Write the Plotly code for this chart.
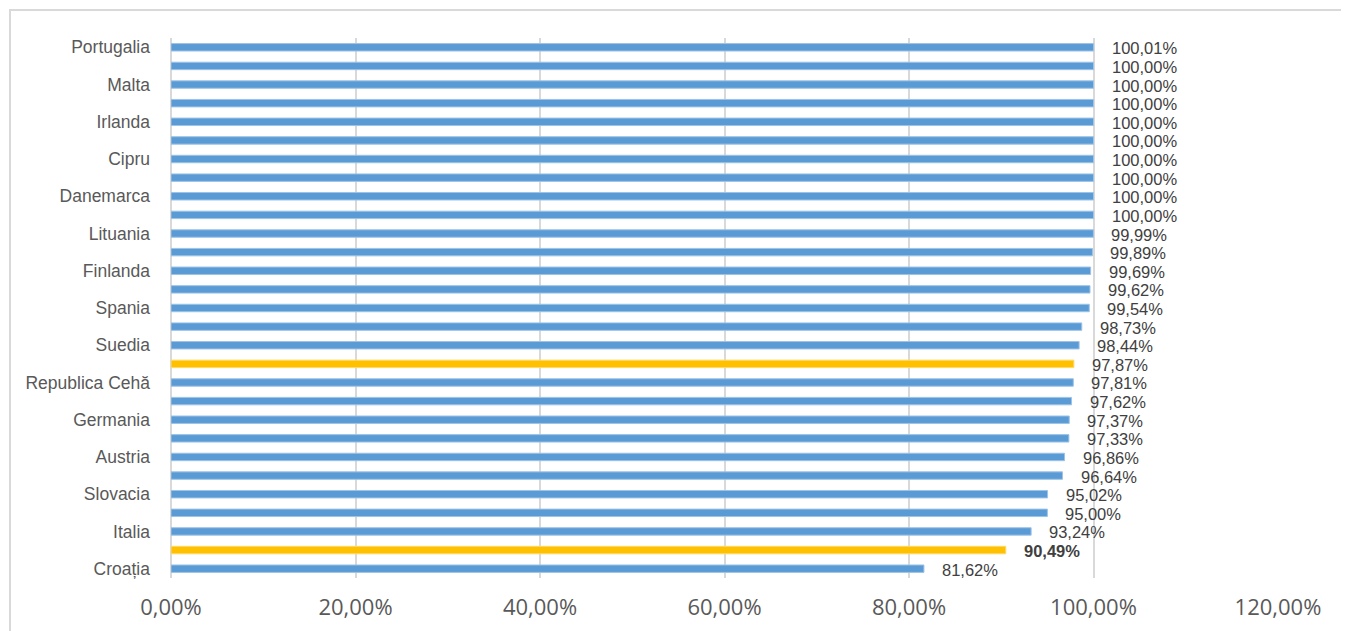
import plotly.graph_objects as go

countries = ["Portugalia", "Luxemburg", "Malta", "Olanda", "Irlanda", "Belgia", "Cipru", "Grecia",
             "Danemarca", "Letonia", "Lituania", "Estonia", "Finlanda", "Ungaria", "Spania", "Franța",
             "Suedia", "UE", "Republica Cehă", "Polonia", "Germania", "Slovenia", "Austria", "Bulgaria",
             "Slovacia", "Islanda", "Italia", "România", "Croația"]
values = [100.01, 100.00, 100.00, 100.00, 100.00, 100.00, 100.00, 100.00, 100.00, 100.00,
          99.99, 99.89, 99.69, 99.62, 99.54, 98.73, 98.44, 97.87, 97.81, 97.62,
          97.37, 97.33, 96.86, 96.64, 95.02, 95.00, 93.24, 90.49, 81.62]
highlight = ["UE", "România"]
bold_label = ["România"]
shown_labels = countries[0::2]
x_ticks = [0, 20, 40, 60, 80, 100, 120]

BLUE = "#5B9BD5"
YELLOW = "#FFC000"
colors = [YELLOW if c in highlight else BLUE for c in countries]
edge = ["#FFD966" if c in highlight else "#9DC3E6" for c in countries]

fig = go.Figure()
fig.add_trace(go.Bar(
    y=countries, x=values, orientation="h",
    marker=dict(color=colors, line=dict(color=edge, width=1)),
    width=0.4, hoverinfo="x+y",
))

def fmt(v):
    return f"{v:.2f}".replace(".", ",") + "%"

annotations = []
for c, v in zip(countries, values):
    t = fmt(v)
    if c in bold_label:
        t = "<b>" + t + "</b>"
    annotations.append(dict(
        x=v, y=c, xref="x", yref="y", text=t, showarrow=False,
        xanchor="left", yanchor="middle", xshift=16, yshift=-1,
        font=dict(family="Liberation Sans, Arial, sans-serif", size=16.5, color="#404040"),
    ))

# page has an 8px body margin, so the figure is offset by 8px
OFF = 8
W, H = 1349 - OFF, 631 - OFF
L, R, T, B = 171 - OFF, 71, 38 - OFF, 53
pw, ph = W - L - R, H - T - B

fig.update_layout(
    width=W, height=H,
    margin=dict(l=L, r=R, t=T, b=B, autoexpand=False),
    paper_bgcolor="white", plot_bgcolor="white",
    showlegend=False,
    annotations=annotations,
    xaxis=dict(
        range=[0, 120], tickvals=x_ticks,
        ticktext=[f"{t:.2f}".replace(".", ",") + "%" for t in x_ticks],
        showgrid=True, gridcolor="#D9D9D9", gridwidth=1.5,
        zeroline=True, zerolinecolor="#D9D9D9", zerolinewidth=1.5,
        tickfont=dict(family="Open Sans, sans-serif", size=22, color="#595959"),
        ticks="", ticklabelstandoff=14, fixedrange=True, automargin=False,
    ),
    yaxis=dict(
        type="category", categoryorder="array", categoryarray=countries[::-1],
        tickvals=shown_labels, ticktext=shown_labels,
        tickfont=dict(family="Liberation Sans, Arial, sans-serif", size=17.5, color="#595959"),
        ticks="", showgrid=False, ticklabelstandoff=20, automargin=False,
        range=[-0.5, len(countries) - 0.5],
    ),
    shapes=[dict(
        type="rect", xref="paper", yref="paper",
        x0=(10 - 171) / pw, x1=(1347 - 171) / pw,
        y0=(578 - 640) / ph, y1=(578 - 10) / ph,
        line=dict(color="#D9D9D9", width=2), fillcolor="rgba(0,0,0,0)", layer="below",
    )],
)

fig.write_html("out.html")
